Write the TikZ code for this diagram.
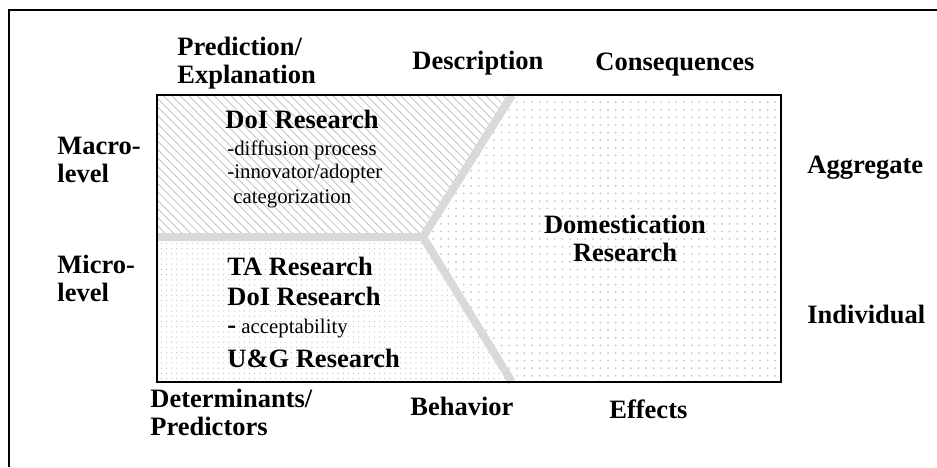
\documentclass[tikz,border=0pt]{standalone}
\usepackage{fontspec}
\setmainfont{Liberation Serif}
\usetikzlibrary{patterns.meta}

\tikzset{
  head/.style={font=\bfseries\fontsize{13.25}{14}\selectfont, inner sep=0pt, align=left},
  note/.style={font=\fontsize{10.4}{12}\selectfont, inner sep=0pt, anchor=base west},
  split/.style={line width=4pt, gray!30}
}

\begin{document}
\begin{tikzpicture}[x=0.5pt, y=-0.5pt]
    \useasboundingbox (0,0) rectangle (937,467);

    % outer frame (only left and top edges show)
    \draw[line width=1.3pt] (9,467) -- (9,10) -- (937,10);

    % inner box and where the three areas meet
    \coordinate (boxnw) at (157,95);
    \coordinate (boxse) at (781,382);
    \coordinate (midleft) at (157,237);
    \coordinate (fork) at (423,237);
    \coordinate (forktop) at (512,95);
    \coordinate (forkbot) at (512,382);

    %% macro area
    \fill[pattern={Lines[angle=-45,distance=3pt,line width=.35pt]}, pattern color=gray!55]
        (boxnw) -- (forktop) -- (fork) -- (midleft) -- cycle;
    %% micro area
    \fill[pattern={Dots[radius=.35pt,distance=2.6pt]}, pattern color=gray!45]
        (midleft) -- (fork) -- (forkbot) -- (157,382) -- cycle;
    %% domestication area
    \fill[pattern={Dots[radius=.5pt,distance=3.8pt]}, pattern color=gray!45]
        (forktop) -- (781,95) -- (boxse) -- (forkbot) -- (fork) -- cycle;

    \draw[split] (midleft) -- (fork) -- (forktop) (fork) -- (forkbot);
    \draw[line width=1pt] (boxnw) rectangle (boxse);

    % column heads
    \node[head, anchor=north west] (pred) at (177,36.5) {Prediction/\\Explanation};
    \node[head, anchor=base west] (desc) at (412,69) {Description};
    \node[head, anchor=base west] (cons) at (595,70) {Consequences};

    \node[head, anchor=north west] (det) at (150,388.5) {Determinants/\\Predictors};
    \node[head, anchor=base west] (behav) at (410,415) {Behavior};
    \node[head, anchor=base west] (eff) at (609,418) {Effects};

    % row heads
    \node[head, anchor=north west] (macro) at (57,136.5) {Macro-\\level};
    \node[head, anchor=north west] (micro) at (57,254.5) {Micro-\\level};
    \node[head, anchor=base west] (aggr) at (807,173) {Aggregate};
    \node[head, anchor=base west] (indiv) at (807,323) {Individual};

    % research fields
    \node[head, anchor=base west] (doimacro) at (225,128) {DoI Research};
    \node[note] (diff) at (227,155) {-diffusion process};
    \node[note] (innov) at (227,178) {-innovator/adopter};
    \node[note] (categ) at (233,203) {categorization};

    \node[head, anchor=base west] (ta) at (227,275) {TA Research};
    \node[head, anchor=base west] (doimicro) at (227,305) {DoI Research};
    \node[note] (accept) at (227,333) {{\bfseries\fontsize{13.25}{14}\selectfont -} acceptability};
    \node[head, anchor=base west] (ug) at (227,367) {U\&G Research};

    \node[head, align=center, anchor=north] (dom) at (625,214.5) {Domestication\\Research};
\end{tikzpicture}
\end{document}
